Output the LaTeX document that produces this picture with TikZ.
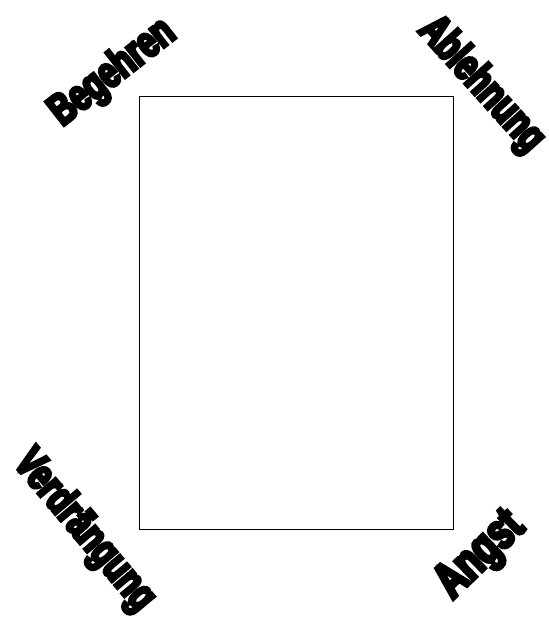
\documentclass[tikz,border=0pt]{standalone}
\usepackage{fontspec}
\newfontfamily\lblfont{Liberation Sans}[UprightFont=* Bold, FakeStretch=0.72, FakeBold=7]
\begin{document}
\begin{tikzpicture}[x=1pt,y=-1pt,
  lbl/.style={inner sep=0pt, font=\lblfont\fontsize{44}{44}\selectfont}]
\useasboundingbox (0,0) rectangle (548,617);
\node[draw, line width=0.9pt, minimum width=314pt, minimum height=433pt, inner sep=0pt, anchor=north west] (box) at (138.5,96) {};
\node[lbl, rotate=38] (begehren) at (113,73) {Begehren};
\node[lbl, rotate=-48] (ablehnung) at (481,85) {Ablehnung};
\node[lbl, rotate=-50] (verdraengung) at (84,531) {Verdrängung};
\node[lbl, rotate=44, font=\lblfont\fontsize{50}{50}\selectfont] (angst) at (481,556) {Angst};
\end{tikzpicture}
\end{document}
